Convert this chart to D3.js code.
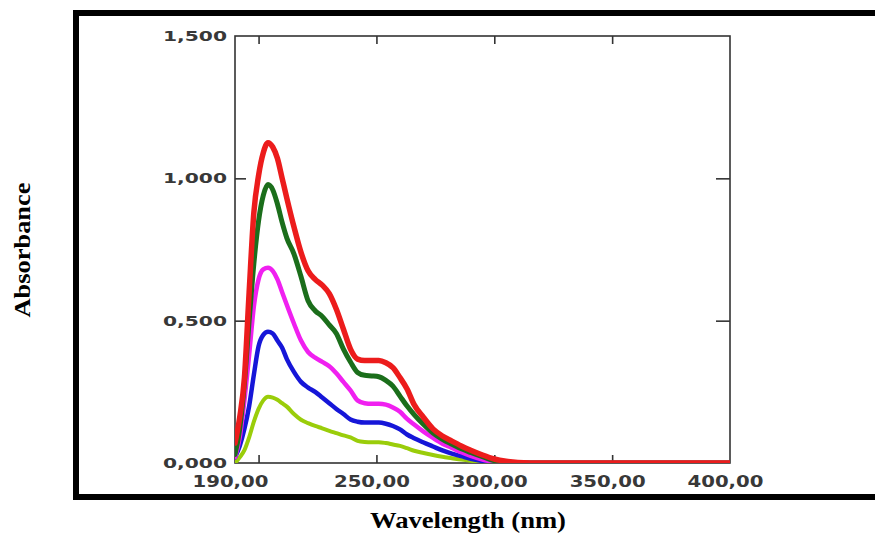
<!DOCTYPE html>
<html>
<head>
<meta charset="utf-8">
<script src="https://cdn.jsdelivr.net/npm/d3@7/dist/d3.min.js"></script>
<style>
  html, body { margin: 0; padding: 0; background: #ffffff; }
  svg { display: block; }
</style>
</head>
<body>
<svg id="chart" width="875" height="535"></svg>
<script>
// ---- data ----
const wavelengths = [190,192,194,196,198,200,202,204,206,208,210,212,215,218,221,224,227,230,233,236,239,242,245,248,251,254,257,260,263,266,270,274,278,282,286,290,295,300,305,310,320,350,400];

const seriesNames = ["yellowgreen","blue","magenta","green","red"];

const yellowGreenValues = [0.0,0.02,0.045,0.09,0.145,0.19,0.22,0.233,0.23,0.222,0.21,0.198,0.172,0.152,0.14,0.13,0.122,0.113,0.105,0.097,0.09,0.078,0.074,0.073,0.073,0.07,0.065,0.06,0.052,0.043,0.035,0.028,0.022,0.017,0.012,0.008,0.004,0.001,0.0,0.0,0.0,0.0,0.0];
const blueValues = [0.02,0.06,0.12,0.20,0.31,0.41,0.45,0.461,0.455,0.43,0.405,0.365,0.32,0.285,0.265,0.25,0.23,0.21,0.19,0.172,0.153,0.145,0.142,0.142,0.142,0.138,0.13,0.118,0.10,0.087,0.072,0.058,0.044,0.033,0.024,0.015,0.007,0.002,0.0,0.0,0.0,0.0,0.0];
const magentaValues = [0.02,0.09,0.22,0.38,0.55,0.645,0.68,0.686,0.675,0.645,0.60,0.555,0.49,0.43,0.39,0.37,0.355,0.34,0.315,0.285,0.255,0.22,0.21,0.208,0.208,0.205,0.195,0.18,0.155,0.135,0.11,0.088,0.068,0.053,0.038,0.025,0.012,0.004,0.001,0.0,0.0,0.0,0.0];
const greenValues = [0.03,0.12,0.28,0.50,0.70,0.85,0.94,0.978,0.96,0.91,0.845,0.79,0.735,0.655,0.57,0.535,0.515,0.485,0.455,0.40,0.355,0.318,0.308,0.306,0.303,0.29,0.27,0.235,0.20,0.17,0.135,0.105,0.083,0.066,0.05,0.037,0.022,0.008,0.003,0.001,0.0,0.0,0.0];
const redValues = [0.07,0.16,0.30,0.60,0.88,1.01,1.09,1.125,1.11,1.07,1.00,0.93,0.83,0.74,0.675,0.645,0.625,0.595,0.54,0.47,0.40,0.365,0.36,0.36,0.36,0.352,0.335,0.30,0.26,0.205,0.16,0.12,0.095,0.077,0.06,0.045,0.028,0.014,0.006,0.002,0.0,0.0,0.0];

const seriesColors = ["#9acd0a","#1616d8","#f020f0","#1b6e1b","#ec1c1c"];

const xTickMarks = [200,250,300,350];
const xTickLabels = [190,250,300,350,400];
const yTickLabels = [0,0.5,1.0,1.5];
const yTickMarks = [0.5,1.0];

const xTitle = "Wavelength (nm)";
const yTitle = "Absorbance";

// ---- drawing ----
const svg = d3.select("#chart");
svg.append("rect").attr("width",875).attr("height",535).attr("fill","#fff");

// outer thick frame (right side runs off the picture)
svg.append("rect")
  .attr("x",76).attr("y",13).attr("width",880).attr("height",484)
  .attr("fill","none").attr("stroke","#000").attr("stroke-width",6);

const x = d3.scaleLinear().domain([190,400]).range([235,730]);
const y = d3.scaleLinear().domain([0,1.5]).range([463,36]);

const axisColor = "#333";
const comma = f => f.replace(".", ",");

// plot box
svg.append("rect")
  .attr("x",x(190)).attr("y",y(1.5))
  .attr("width",x(400)-x(190)).attr("height",y(0)-y(1.5))
  .attr("fill","none").attr("stroke",axisColor).attr("stroke-width",1.6);

// tick marks
function styleTicks(g){
  g.select(".domain").remove();
  g.selectAll(".tick line").attr("stroke",axisColor).attr("stroke-width",1.6);
  g.selectAll(".tick text").remove();
}
svg.append("g").attr("transform",`translate(0,${y(0)})`)
  .call(d3.axisBottom(x).tickValues(xTickMarks).tickSize(-8).tickFormat(""))
  .call(styleTicks);
svg.append("g").attr("transform",`translate(0,${y(1.5)})`)
  .call(d3.axisTop(x).tickValues(xTickMarks).tickSize(-8).tickFormat(""))
  .call(styleTicks);
svg.append("g").attr("transform",`translate(${x(190)},0)`)
  .call(d3.axisLeft(y).tickValues(yTickMarks).tickSize(-11).tickFormat(""))
  .call(styleTicks);
svg.append("g").attr("transform",`translate(${x(400)},0)`)
  .call(d3.axisRight(y).tickValues(yTickMarks).tickSize(-14).tickFormat(""))
  .call(styleTicks);

// tick labels
const labelFont = "'DejaVu Sans', Verdana, sans-serif";
const xl = svg.append("g").attr("transform",`translate(-5,${y(0)})`)
  .call(d3.axisBottom(x).tickValues(xTickLabels).tickSize(0).tickPadding(13)
        .tickFormat(d => comma(d3.format(".2f")(d))));
xl.select(".domain").remove();
xl.selectAll(".tick text")
  .attr("font-family",labelFont).attr("font-weight","bold").attr("font-size",16)
  .attr("fill","#383838").attr("textLength",76).attr("lengthAdjust","spacingAndGlyphs");

const yl = svg.append("g").attr("transform",`translate(${x(190)-8},0)`)
  .call(d3.axisLeft(y).tickValues(yTickLabels).tickSize(0).tickPadding(0)
        .tickFormat(d => comma(d3.format(".3f")(d))));
yl.select(".domain").remove();
yl.selectAll(".tick text")
  .attr("font-family",labelFont).attr("font-weight","bold").attr("font-size",14)
  .attr("fill","#383838").attr("textLength",64).attr("lengthAdjust","spacingAndGlyphs");

// curves
const allValues = [yellowGreenValues, blueValues, magentaValues, greenValues, redValues];
const widths = [4,4.5,4.5,5,5.5];
const line = d3.line()
  .x(d => x(d[0]))
  .y(d => y(d[1]))
  .curve(d3.curveMonotoneX);

svg.append("clipPath").attr("id","clip").append("rect")
  .attr("x",x(190)).attr("y",y(1.5)-5)
  .attr("width",x(400)-x(190)).attr("height",y(0)-y(1.5)+5);

const curves = svg.append("g").attr("clip-path","url(#clip)");
seriesNames.forEach((name,i) => {
  const pts = wavelengths.map((w,j) => [w, allValues[i][j]]);
  curves.append("path")
    .datum(pts)
    .attr("class","series-"+name)
    .attr("fill","none")
    .attr("stroke",seriesColors[i])
    .attr("stroke-width",widths[i])
    .attr("stroke-linejoin","round")
    .attr("stroke-linecap","round")
    .attr("d",line);
});

// axis titles
const titleFont = "'Liberation Serif', 'Times New Roman', serif";
svg.append("text")
  .attr("x",468).attr("y",528)
  .attr("text-anchor","middle")
  .attr("font-family",titleFont).attr("font-weight","bold").attr("font-size",24)
  .attr("textLength",196).attr("lengthAdjust","spacingAndGlyphs")
  .attr("fill","#000")
  .text(xTitle);

svg.append("text")
  .attr("transform","translate(30,250) rotate(-90)")
  .attr("text-anchor","middle")
  .attr("font-family",titleFont).attr("font-weight","bold").attr("font-size",24)
  .attr("textLength",135).attr("lengthAdjust","spacingAndGlyphs")
  .attr("fill","#000")
  .text(yTitle);
</script>
</body>
</html>
